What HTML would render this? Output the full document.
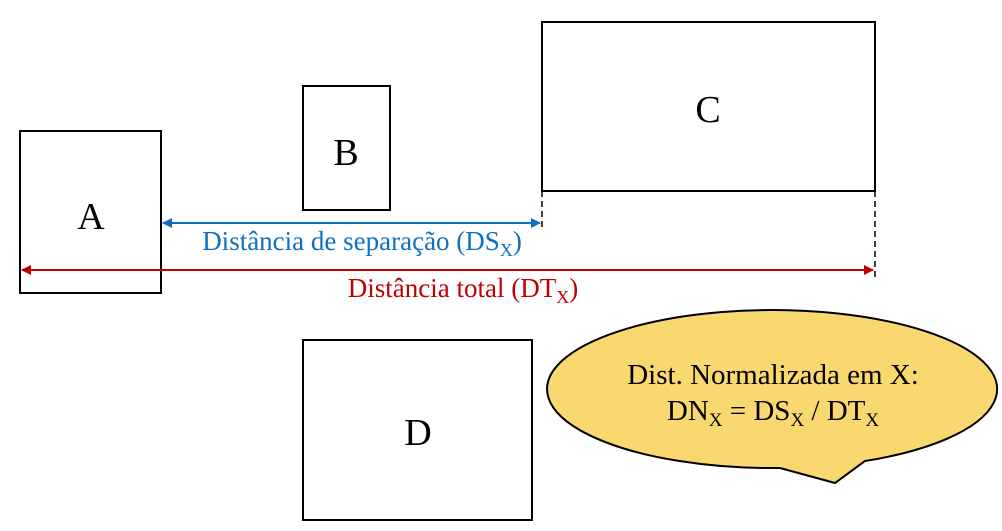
<!DOCTYPE html>
<html><head><meta charset="utf-8"><style>body{margin:0;background:#fff}svg{display:block}</style></head><body>
<svg width="1002" height="531" xmlns="http://www.w3.org/2000/svg" font-family="Liberation Serif, serif">
<defs>
<marker id="ab" viewBox="0 0 10 10" refX="9" refY="5" markerWidth="5" markerHeight="5" orient="auto-start-reverse"><path d="M0,0L10,5L0,10z" fill="#1070c0"/></marker>
<marker id="ar" viewBox="0 0 10 10" refX="9" refY="5" markerWidth="5" markerHeight="5" orient="auto-start-reverse"><path d="M0,0L10,5L0,10z" fill="#c00000"/></marker>
</defs>
<g fill="none" stroke="#000" stroke-width="2">
<rect x="20" y="131" width="141" height="162"/>
<rect x="303" y="86" width="87" height="124"/>
<rect x="542" y="22" width="333" height="169"/>
<rect x="303" y="340" width="229" height="180"/>
<line x1="542" y1="191" x2="542" y2="231" stroke-dasharray="6,4" stroke-width="1.5"/>
<line x1="875" y1="191" x2="875" y2="279" stroke-dasharray="6,4" stroke-width="1.5"/>
</g>
<line x1="163" y1="223" x2="540" y2="223" stroke="#1070c0" stroke-width="2" marker-start="url(#ab)" marker-end="url(#ab)"/>
<line x1="22" y1="270" x2="873" y2="270" stroke="#c00000" stroke-width="2" marker-start="url(#ar)" marker-end="url(#ar)"/>
<g font-size="38" text-anchor="middle" fill="#000">
<text x="91" y="229">A</text><text x="346" y="165">B</text><text x="708" y="122">C</text><text x="418" y="445">D</text>
</g>
<text x="362" y="250" font-size="27" fill="#1070c0" text-anchor="middle">Distância de separação (DS<tspan font-size="18" dy="6">X</tspan><tspan dy="-6">)</tspan></text>
<text x="463" y="297" font-size="27" fill="#c00000" text-anchor="middle">Distância total (DT<tspan font-size="18" dy="6">X</tspan><tspan dy="-6">)</tspan></text>
<path d="M780,468 A225,79 0 1 1 865,461 L835,483 Z" fill="#fad870" stroke="#000" stroke-width="2"/>
<text x="773" y="384" font-size="29" text-anchor="middle">Dist. Normalizada em X:</text>
<text x="773" y="420" font-size="29" text-anchor="middle">DN<tspan font-size="19" dy="6">X</tspan><tspan dy="-6"> = DS</tspan><tspan font-size="19" dy="6">X</tspan><tspan dy="-6"> / DT</tspan><tspan font-size="19" dy="6">X</tspan></text>
</svg>
</body></html>
